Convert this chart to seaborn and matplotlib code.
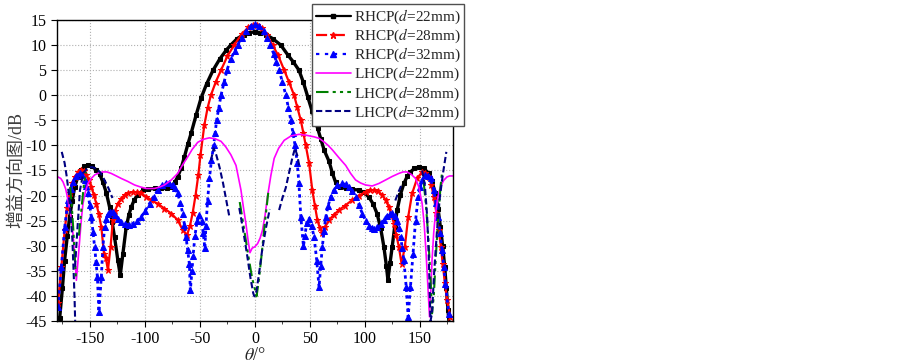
import numpy as np
import pandas as pd
import matplotlib
matplotlib.use("Agg")
import matplotlib.pyplot as plt
import seaborn as sns
from matplotlib.lines import Line2D
from matplotlib.ticker import MultipleLocator

sns.set_style("ticks")
plt.rcParams["font.family"] = ["Liberation Serif", "Noto Sans CJK SC"]
plt.rcParams["mathtext.fontset"] = "stix"
plt.rcParams["axes.unicode_minus"] = False

nan = np.nan

# (theta in deg, gain in dB); nan = gap in the curve
rhcp_22 = [(-177.5, -44.5), (-175, -38.5), (-173, -33), (-170.5, -28), (-168.4, -24.3), (-166, -21),
           (-163.8, -18.3), (-161, -16.3), (-157.8, -14.9), (-155, -14.2), (-151.8, -13.9), (-148, -14.2),
           (-144.2, -14.9), (-141, -15.8), (-138.2, -17.3), (-135, -19.5), (-132.1, -22.3), (-129.8, -25.3),
           (-127.6, -28.3), (-124.6, -32.9), (-122.4, -35.9), (-120, -31.6), (-117, -26.3), (-114.5, -23.8),
           (-112.4, -22.3), (-109.5, -20.8), (-106.4, -19.9), (-102, -19), (-97.4, -18.7), (-91, -18.6),
           (-85.2, -18.6), (-80, -18.6), (-76.2, -18.3), (-73, -17.4), (-70.2, -16.3), (-67, -14.5),
           (-64.1, -12.3), (-61, -9.8), (-58, -7.6), (-53.5, -4), (-49, -0.6), (-44, 2.2), (-38, 5),
           (-32, 7.2), (-26, 9), (-22, 10), (-16, 11.3), (-10, 12.1), (-5, 12.5), (0, 12.6), (5, 12.5),
           (10, 12.1), (16, 11.3), (23.5, 10), (30, 8), (35, 6.6), (40, 5), (44, 2.6), (48, -0.3),
           (52, -3.2), (57, -6.6), (60, -8.8), (63, -11), (67.4, -13.2), (70.5, -15.6), (73.4, -17.4),
           (77, -18.3), (82.5, -18.6), (88, -18.8), (94.6, -18.9), (99, -19.4), (103.6, -20.3),
           (107.5, -21.7), (111, -23.6), (114.3, -26.5), (117.2, -30.2), (119.5, -34), (120.9, -36.9),
           (122.8, -33.5), (124.8, -30.2), (127, -26.3), (129.3, -22.9), (132.3, -19.8), (135.4, -17.6),
           (138.4, -16.2), (141.4, -15.3), (145, -14.6), (149, -14.3), (153.5, -14.6), (158, -15.6),
           (161, -17.2), (164, -19.6), (166.5, -22.7), (168.6, -26.3), (170.6, -30), (172.5, -34.2),
           (174, -38.5), (175.5, -42.9), (176.5, -45.5)]

rhcp_28 = [(-179, -41.5), (-175.9, -34.2), (-172.9, -26.9), (-170.5, -22.5), (-168.4, -19.6), (-166, -17.6),
           (-163.8, -16.3), (-160.5, -15.3), (-157.8, -14.9), (-155.5, -15.2), (-153.2, -15.9), (-151, -16.9),
           (-148.7, -18.3), (-146.5, -19.8), (-144.2, -21.6), (-142, -23.6), (-139.6, -26.3), (-137.2, -31.6),
           (-135.5, -32.5), (-133.6, -34.9), (-131.2, -30.2), (-129.1, -24.9), (-127, -23), (-124.6, -21.6),
           (-121.5, -20.6), (-118.5, -19.9), (-115, -19.5), (-111, -19.3), (-107, -19.4), (-103.4, -19.6),
           (-99, -20.2), (-94.3, -20.9), (-88, -21.7), (-82.2, -22.6), (-76, -23.6), (-70.2, -24.9),
           (-65.6, -26.9), (-61.7, -27.9), (-59, -26), (-56.6, -23.5), (-54, -20), (-51.5, -16),
           (-49.5, -12), (-46, -6), (-43, -2.5), (-40, 0), (-35.5, 2.7), (-30.8, 5), (-25, 7.8),
           (-18.8, 10), (-12, 12.2), (-6, 13.5), (-2, 14), (2, 13.9), (6, 13.4), (11, 12), (16, 10),
           (21, 8), (26.6, 5), (31, 2.6), (35.6, 0), (38.5, -2.4), (41.7, -5), (44, -7.5), (46.2, -10),
           (49.2, -13.5), (52.2, -19), (54.5, -22), (56.8, -24.9), (59, -26.5), (61.3, -27.5), (64, -26.2),
           (67.4, -24.9), (71.5, -23.9), (76.4, -22.9), (82, -22), (88.5, -20.9), (94.5, -20), (100.6, -19.3),
           (104.5, -19), (108.2, -18.9), (112, -19.2), (115.7, -19.9), (118.8, -20.9), (121.8, -22.3),
           (124, -23.8), (126.3, -25.6), (128.5, -27.8), (130.8, -30.2), (133.3, -33.6), (136.3, -30.2),
           (139.3, -24.3), (142.9, -19.6), (147.4, -16.6), (152, -15.3), (155, -15.5), (158, -16.3),
           (160.5, -18), (162.6, -20.3), (165, -23.5), (167.1, -26.9), (169, -30.2), (170.7, -33.6),
           (172.7, -37.5), (174.6, -40.9), (177.7, -44.2)]

rhcp_32 = [(-179, -42.2), (-175.9, -34.2), (-172.9, -26.3), (-169.9, -20.9), (-167.5, -18.7), (-165.4, -17.3),
           (-162.5, -16.1), (-159.3, -15.6), (-157, -16), (-154.8, -17), (-153.2, -18.1), (-151.8, -19.6),
           (-150.2, -21.8), (-148.7, -24.3), (-147.2, -27.2), (-145.7, -30.3), (-144.4, -33.2), (-143.2, -36.2),
           (-141.8, -43.2), (-139.6, -36.2), (-138.2, -30.3), (-136.6, -26.3), (-135, -24.7), (-133.6, -23.6),
           (-131.3, -23.2), (-129.1, -23.3), (-126.8, -23.8), (-124.6, -24.6), (-121.5, -25.2), (-118.5, -25.6),
           (-114.7, -25.8), (-111, -25.6), (-107.2, -25.1), (-103.4, -24.3), (-99.6, -23), (-95.8, -21.6),
           (-92, -20.2), (-88.3, -18.9), (-84.5, -18), (-80.7, -17.6), (-77.7, -17.6), (-74.7, -17.9),
           (-72.4, -18.6), (-70.2, -19.6), (-67.9, -21.4), (-65.6, -23.6), (-64.1, -25.8), (-62.6, -28.3),
           (-61.1, -30.9), (-59.6, -33.6), (-58.7, -38.9), (-57.2, -35), (-56.2, -32), (-54.5, -28),
           (-52.5, -25), (-50.5, -23.9), (-48.5, -25), (-47, -27.5), (-45.5, -30.5), (-44.5, -26),
           (-43, -21), (-41.4, -16.6), (-39.5, -13), (-37.5, -10), (-36.2, -7.5), (-34.8, -5), (-32.8, -2.5),
           (-30.8, 0), (-28, 2.6), (-25.4, 5), (-22, 7.2), (-18.5, 8.8), (-15.7, 10), (-12, 11.5), (-8, 12.8),
           (-4, 13.7), (0, 14.1), (4, 13.8), (8, 12.8), (11, 11.5), (13.9, 10), (17, 8.3), (19.5, 6.7),
           (22, 5), (25, 2.6), (28.1, 0), (30.5, -2.6), (32.6, -5), (34.6, -7.5), (36.5, -10), (38.5, -13.5),
           (40, -17.6), (41.7, -24.2), (44.1, -30.1), (45.5, -28), (47, -25.5), (49.2, -24.6), (51.5, -26),
           (53.8, -28.3), (56.2, -33), (58.3, -38.3), (59.8, -34), (61.3, -30.2), (62.8, -27), (64.4, -24.3),
           (66.6, -22), (68.9, -20.3), (71.9, -18.9), (74.9, -18), (79.4, -17.6), (82.5, -17.8), (85.5, -18.3),
           (88.5, -19.1), (91.5, -20.3), (94.5, -21.8), (97.6, -23.6), (100.6, -25), (103.6, -26), (106, -26.5),
           (108.2, -26.6), (111.2, -26.3), (114.2, -25.6), (117.2, -24.8), (120.2, -24), (122.5, -23.6),
           (124.8, -23.5), (127, -24), (129.3, -25), (130.9, -26.5), (132.4, -28.3), (134, -30.5),
           (135.4, -32.9), (137.5, -38.2), (139.3, -44.2), (141.4, -38.2), (143.8, -31.6), (146, -25),
           (148.4, -20.3), (150.2, -18.3), (152, -17), (155, -16), (157.3, -16.1), (159.6, -16.6),
           (162.6, -19), (164.5, -21.4), (166.5, -24.3), (168.3, -27.4), (170.1, -30.9), (171.7, -34.2),
           (173.2, -37.6), (176.2, -43.6)]

lhcp_22 = [(-180, -16.3), (-179, -16.3), (-176.5, -16.6), (-174.4, -17.3), (-172, -18.7), (-169.9, -20.9),
           (-167.5, -23.8), (-165.4, -27.6), (-163.8, -32), (-162.3, -36.9), (-160.8, -33), (-159.3, -28.9),
           (-157.8, -24.8), (-156.3, -21.6), (-154, -19.2), (-151.8, -17.6), (-148.7, -16.6), (-145.7, -15.9),
           (-142, -15.5), (-138.2, -15.3), (-134.5, -15.3), (-130.6, -15.6), (-126, -16.1), (-121.5, -16.6),
           (-115.5, -17.2), (-109.4, -17.9), (-104, -18.3), (-98.8, -18.6), (-91.3, -18.6), (-86.5, -18.3),
           (-82.2, -17.9), (-76, -16.9), (-70.2, -15.6), (-65.5, -13.8), (-61.1, -12.3), (-57, -10.8),
           (-52, -9.4), (-47, -8.8), (-41.4, -8.5), (-36, -8.7), (-30.8, -9.2), (-26.5, -10.3), (-21.8, -11.9),
           (-17.2, -14), (-12.7, -18.9), (-10.5, -22.3), (-8.2, -25.6), (-6.3, -28.8), (-4.5, -31.4),
           (-2.5, -30.5), (0, -30.2), (2.4, -29.6), (4.7, -28.5), (6.9, -26.9), (9.2, -24), (11.4, -20.3),
           (14.5, -16), (17.5, -12.6), (21.5, -10.6), (26.6, -9), (33, -8.1), (40.2, -7.8), (47, -8),
           (53.8, -8.3), (58.3, -8.6), (62.8, -9.3), (66.5, -10), (70.4, -10.9), (76.5, -12.5), (82.5, -14),
           (87, -15.6), (91.5, -16.9), (96, -17.5), (100.6, -17.9), (106.6, -18.1), (112.7, -17.6),
           (118.8, -16.9), (124.8, -16.2), (130.8, -15.6), (134.6, -15.3), (138.4, -15.3), (142.2, -15.8),
           (146, -16.6), (149, -18.3), (152, -21.6), (153.8, -25.5), (155.6, -31.6), (157.2, -38),
           (158.7, -44.2), (160, -38.5), (161, -32.9), (162.5, -27.5), (164.1, -23.6), (166.3, -20.3),
           (168.6, -18.3), (171.5, -17), (174.6, -16.3), (177, -16.1), (180, -16.1)]

lhcp_28 = [(-168, -18.3), (-166.5, -22), (-165, -27), (-163.8, -32), (-162.6, -36.9), (nan, nan),
           (-160, -28), (-157.5, -22.3), (-155.5, -18), (-153.6, -15.3), (nan, nan),
           (-13.8, -21.3), (-10, -26.5), (-6, -32), (-2.5, -36.5), (0, -38.7), (1.5, -40.1), (3.5, -37),
           (6, -32), (9, -25.5), (12.4, -18.9), (nan, nan),
           (153.5, -17.5), (155.5, -22), (157.5, -28), (159.5, -36), (161, -43.5), (162.6, -40),
           (164.5, -32), (166.5, -25), (168.6, -18.5), (170, -15.6)]

lhcp_32 = [(-175.6, -11.3), (-173, -13.5), (-171, -16.3), (-169, -20), (-167.7, -23.6), (-166, -28.5),
           (-165, -34), (-164, -40), (-163.4, -45), (nan, nan),
           (-163.5, -34.2), (-161, -25.5), (-159, -18.9), (-156, -15.5), (-152, -14.5), (-148, -14.3),
           (-144, -14.7), (-140.5, -15.4), (-137, -16.8), (-133, -18.6), (-129.5, -20.5), (nan, nan),
           (-40, -13), (-37.5, -10.6), (-35, -12), (-32, -14.5), (-29, -17.5), (-26, -21), (-23, -24.5), (nan, nan),
           (-14.2, -22.5), (-11, -26.5), (-7, -32), (-4, -36.5), (-1.5, -39.5), (-0.5, -40.1), (1, -39.5),
           (3.5, -36), (6.5, -31), (10, -26.5), (13.5, -22.7), (nan, nan),
           (22, -22.9), (25, -20.5), (28, -18.5), (31, -15.5), (34, -12.5), (36.4, -10.6), (38.5, -12),
           (40.2, -14), (nan, nan),
           (127.6, -21), (130.5, -19.3), (133.8, -17.6), (nan, nan),
           (152, -15), (154.5, -18), (156.5, -24), (158, -32), (159.6, -45), (161, -43.5), (163, -35),
           (165.5, -27), (168, -20.5), (171, -15.5), (174, -11.3)]

labels = ["RHCP($d$=22mm)", "RHCP($d$=28mm)", "RHCP($d$=32mm)",
          "LHCP($d$=22mm)", "LHCP($d$=28mm)", "LHCP($d$=32mm)"]
curves = [rhcp_22, rhcp_28, rhcp_32, lhcp_22, lhcp_28, lhcp_32]

# plot dashes: dense markers in the original hide the dash pattern of the RHCP curves
styles = [
    dict(color="black", lw=2.4, dashes=None, plot_dashes=None, marker="s", ms=2.8),
    dict(color="red", lw=1.6, dashes=(5, 3), plot_dashes=None, marker="*", ms=4.5),
    dict(color="blue", lw=2.0, dashes=(1.5, 2.5), plot_dashes=(1.2, 1.2), marker="^", ms=4),
    dict(color="#ff00ff", lw=1.2, dashes=None, plot_dashes=None, marker=None, ms=0),
    dict(color="green", lw=1.5, dashes=(6, 2, 1.5, 2, 1.5, 2), plot_dashes=(6, 2, 1.5, 2, 1.5, 2), marker=None, ms=0),
    dict(color="navy", lw=1.5, dashes=(3, 1.5), plot_dashes=(3, 1.5), marker=None, ms=0),
]

fig = plt.figure(figsize=(9.03, 3.63), dpi=100)
ax = fig.add_axes([0.063, 0.116, 0.4386, 0.829])

handles = []
for pts, lab, st in zip(curves, labels, styles):
    arr = np.array(pts, dtype=float)
    df = pd.DataFrame({"theta": arr[:, 0], "gain": arr[:, 1]})
    df["seg"] = np.cumsum(df["gain"].isna())
    df = df.dropna()
    n0 = len(ax.lines)
    kw = dict(color=st["color"], linewidth=st["lw"])
    if st["marker"]:
        kw.update(marker=st["marker"], markersize=st["ms"],
                  markeredgecolor=st["color"], markerfacecolor=st["color"])
    sns.lineplot(data=df, x="theta", y="gain", units="seg", estimator=None,
                 sort=False, ax=ax, legend=False, **kw)
    for ln in ax.lines[n0:]:
        if st["plot_dashes"] is not None:
            ln.set_dashes(st["plot_dashes"])
    h = Line2D([], [], color=st["color"], lw=min(st["lw"], 1.6),
               marker=st["marker"] if st["marker"] else None, ms=st["ms"])
    if st["dashes"] is not None:
        h.set_dashes(st["dashes"])
    handles.append(h)

ax.set_xlim(-180, 180)
ax.set_ylim(-45, 15)
ax.set_xticks(np.arange(-150, 151, 50))
ax.set_yticks(np.arange(-45, 16, 5))
ax.xaxis.set_minor_locator(MultipleLocator(25))
ax.tick_params(axis="both", which="major", direction="out", length=4, labelsize=11.5, colors="black")
ax.tick_params(axis="x", which="minor", direction="out", length=2.5)
ax.grid(True, which="major", linestyle=":", color="#b0b0b0", linewidth=0.8)
for sp in ax.spines.values():
    sp.set_visible(True)
    sp.set_color("black")
    sp.set_linewidth(1.0)

ax.set_xlabel(r"$\theta$/°", fontsize=13, labelpad=0)
ax.set_ylabel("增益方向图/dB", fontsize=13, color="#404040")
ax.yaxis.set_label_coords(-0.08, 0.5)

fig.legend(handles, labels, loc="upper right", bbox_to_anchor=(0.514, 0.989),
           fontsize=11, frameon=True, fancybox=False, edgecolor="#505050",
           framealpha=1, borderpad=0.25, labelspacing=0.05, handlelength=2.3,
           handletextpad=0.2, borderaxespad=0, numpoints=1)

fig.savefig("out.png", dpi=100)
